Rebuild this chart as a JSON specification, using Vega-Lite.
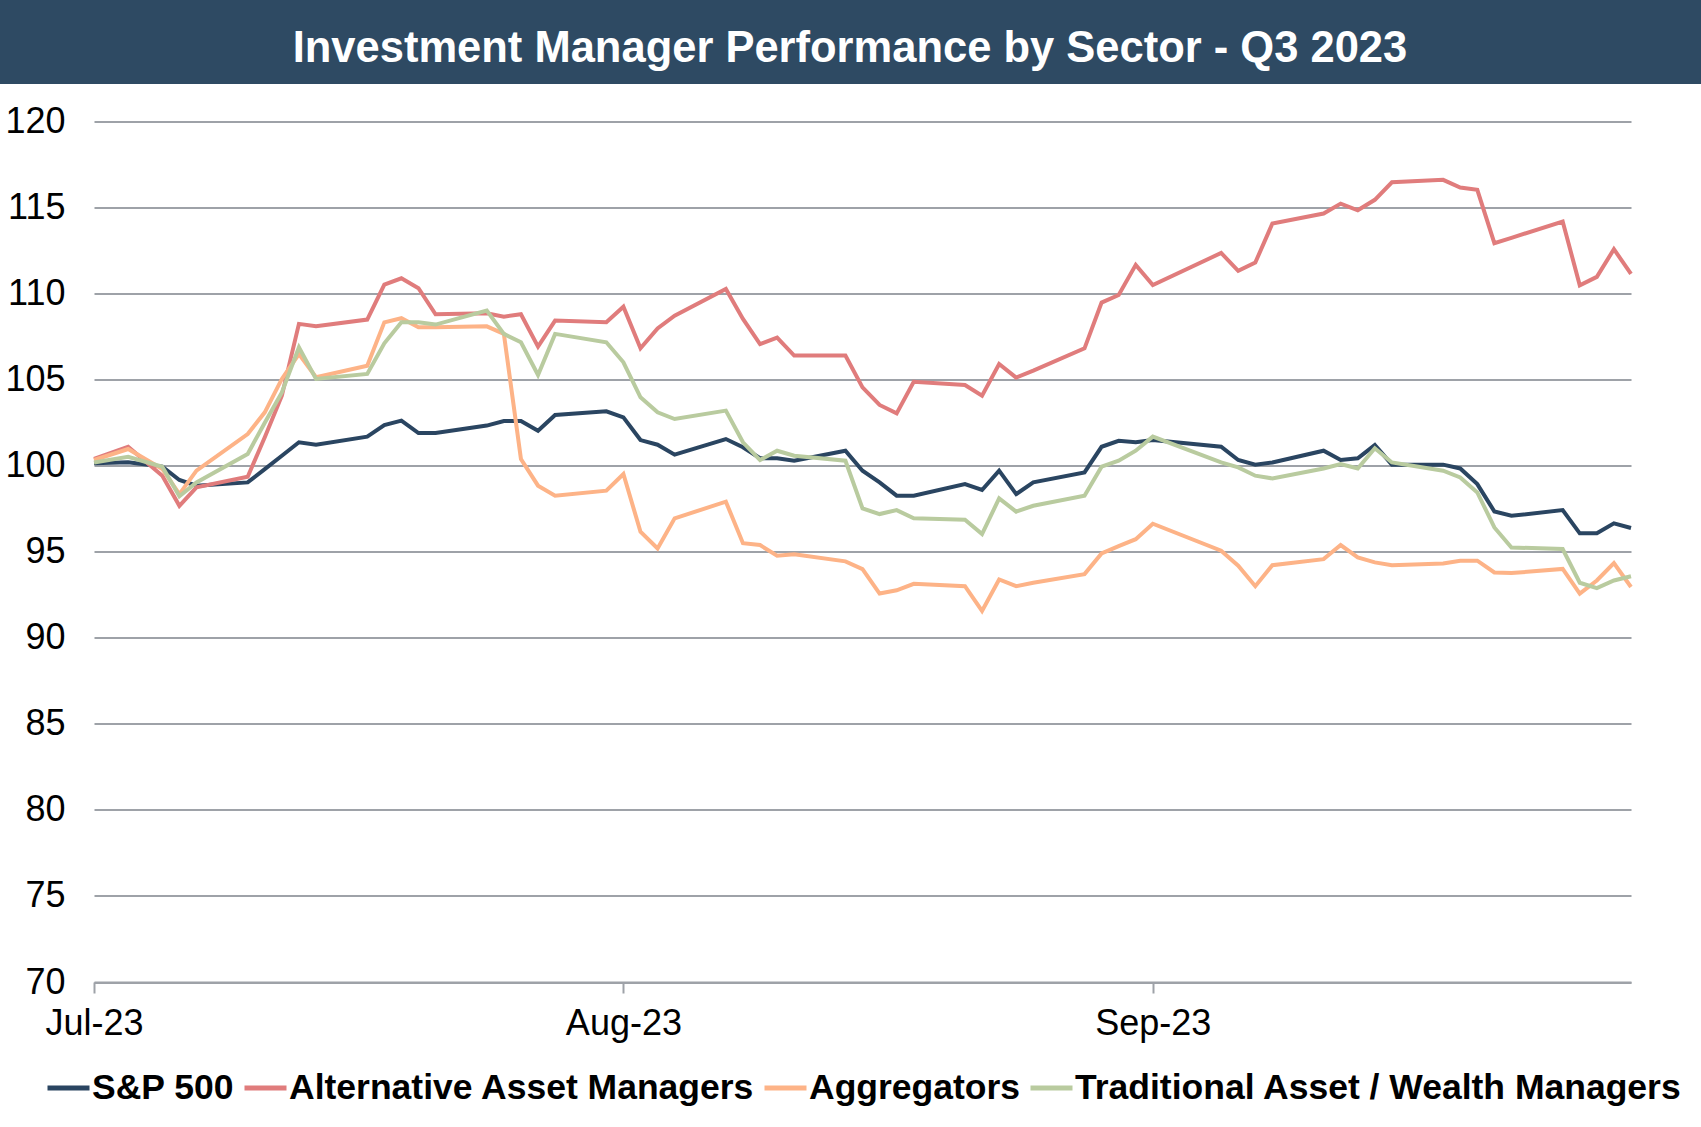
{
"$schema":"https://vega.github.io/schema/vega-lite/v6.json",
"width":1537,"height":860.5,
"autosize":{"type":"none"},
"padding":{"left":94,"top":121.5,"right":70,"bottom":145},
"background":"white",
"config":{"font":"Liberation Sans","view":{"stroke":null}},
"layer":[
{"data":{"values":[{}]},
 "mark":{"type":"rect","color":"#2E4A63"},
 "encoding":{
  "x":{"datum":{"year":2023,"month":6,"date":20,"utc":true},"type":"temporal","scale":{"type":"utc","domain":[{"year":2023,"month":7,"date":1,"utc":true},{"year":2023,"month":9,"date":29,"utc":true}]}},
  "x2":{"datum":{"year":2023,"month":10,"date":10,"utc":true}},
  "y":{"datum":130,"type":"quantitative","scale":{"domain":[70,120],"nice":false,"zero":false}},
  "y2":{"datum":122.18}
 }},
{"data":{"values":[{}]},
 "mark":{"type":"text","text":"Investment Manager Performance by Sector - Q3 2023","font":"Liberation Sans","fontSize":43.5,"fontWeight":"bold","color":"white","align":"center","baseline":"alphabetic"},
 "encoding":{
  "x":{"datum":{"year":2023,"month":8,"date":14,"hours":6,"minutes":24,"utc":true},"type":"temporal"},
  "y":{"datum":123.46,"type":"quantitative"}
 }},
{"data":{"values":[
{"date":"2023-07-01","series":"S&P 500","value":100.14},{"date":"2023-07-01","series":"Alternative Asset Managers","value":100.39},{"date":"2023-07-01","series":"Aggregators","value":100.33},{"date":"2023-07-01","series":"Traditional Asset / Wealth Managers","value":100.19},
{"date":"2023-07-03","series":"S&P 500","value":100.2},{"date":"2023-07-03","series":"Alternative Asset Managers","value":101.1},{"date":"2023-07-03","series":"Aggregators","value":100.97},{"date":"2023-07-03","series":"Traditional Asset / Wealth Managers","value":100.52},
{"date":"2023-07-05","series":"S&P 500","value":99.95},{"date":"2023-07-05","series":"Alternative Asset Managers","value":99.42},{"date":"2023-07-05","series":"Aggregators","value":99.81},{"date":"2023-07-05","series":"Traditional Asset / Wealth Managers","value":99.94},
{"date":"2023-07-06","series":"S&P 500","value":99.17},{"date":"2023-07-06","series":"Alternative Asset Managers","value":97.67},{"date":"2023-07-06","series":"Aggregators","value":98.35},{"date":"2023-07-06","series":"Traditional Asset / Wealth Managers","value":98.22},
{"date":"2023-07-07","series":"S&P 500","value":98.84},{"date":"2023-07-07","series":"Alternative Asset Managers","value":98.74},{"date":"2023-07-07","series":"Aggregators","value":99.71},{"date":"2023-07-07","series":"Traditional Asset / Wealth Managers","value":99.03},
{"date":"2023-07-10","series":"S&P 500","value":99.03},{"date":"2023-07-10","series":"Alternative Asset Managers","value":99.36},{"date":"2023-07-10","series":"Aggregators","value":101.84},{"date":"2023-07-10","series":"Traditional Asset / Wealth Managers","value":100.68},
{"date":"2023-07-11","series":"S&P 500","value":99.8},{"date":"2023-07-11","series":"Alternative Asset Managers","value":101.65},{"date":"2023-07-11","series":"Aggregators","value":103.1},{"date":"2023-07-11","series":"Traditional Asset / Wealth Managers","value":102.5},
{"date":"2023-07-12","series":"S&P 500","value":100.58},{"date":"2023-07-12","series":"Alternative Asset Managers","value":104.07},{"date":"2023-07-12","series":"Aggregators","value":105.04},{"date":"2023-07-12","series":"Traditional Asset / Wealth Managers","value":104.26},
{"date":"2023-07-13","series":"S&P 500","value":101.36},{"date":"2023-07-13","series":"Alternative Asset Managers","value":108.24},{"date":"2023-07-13","series":"Aggregators","value":106.49},{"date":"2023-07-13","series":"Traditional Asset / Wealth Managers","value":106.88},
{"date":"2023-07-14","series":"S&P 500","value":101.22},{"date":"2023-07-14","series":"Alternative Asset Managers","value":108.1},{"date":"2023-07-14","series":"Aggregators","value":105.14},{"date":"2023-07-14","series":"Traditional Asset / Wealth Managers","value":105.04},
{"date":"2023-07-17","series":"S&P 500","value":101.69},{"date":"2023-07-17","series":"Alternative Asset Managers","value":108.49},{"date":"2023-07-17","series":"Aggregators","value":105.81},{"date":"2023-07-17","series":"Traditional Asset / Wealth Managers","value":105.33},
{"date":"2023-07-18","series":"S&P 500","value":102.36},{"date":"2023-07-18","series":"Alternative Asset Managers","value":110.52},{"date":"2023-07-18","series":"Aggregators","value":108.33},{"date":"2023-07-18","series":"Traditional Asset / Wealth Managers","value":107.11},
{"date":"2023-07-19","series":"S&P 500","value":102.62},{"date":"2023-07-19","series":"Alternative Asset Managers","value":110.89},{"date":"2023-07-19","series":"Aggregators","value":108.57},{"date":"2023-07-19","series":"Traditional Asset / Wealth Managers","value":108.33},
{"date":"2023-07-20","series":"S&P 500","value":101.9},{"date":"2023-07-20","series":"Alternative Asset Managers","value":110.31},{"date":"2023-07-20","series":"Aggregators","value":108.04},{"date":"2023-07-20","series":"Traditional Asset / Wealth Managers","value":108.33},
{"date":"2023-07-21","series":"S&P 500","value":101.9},{"date":"2023-07-21","series":"Alternative Asset Managers","value":108.8},{"date":"2023-07-21","series":"Aggregators","value":108.04},{"date":"2023-07-21","series":"Traditional Asset / Wealth Managers","value":108.2},
{"date":"2023-07-24","series":"S&P 500","value":102.33},{"date":"2023-07-24","series":"Alternative Asset Managers","value":108.86},{"date":"2023-07-24","series":"Aggregators","value":108.1},{"date":"2023-07-24","series":"Traditional Asset / Wealth Managers","value":109.01},
{"date":"2023-07-25","series":"S&P 500","value":102.6},{"date":"2023-07-25","series":"Alternative Asset Managers","value":108.66},{"date":"2023-07-25","series":"Aggregators","value":107.66},{"date":"2023-07-25","series":"Traditional Asset / Wealth Managers","value":107.66},
{"date":"2023-07-26","series":"S&P 500","value":102.6},{"date":"2023-07-26","series":"Alternative Asset Managers","value":108.8},{"date":"2023-07-26","series":"Aggregators","value":100.39},{"date":"2023-07-26","series":"Traditional Asset / Wealth Managers","value":107.17},
{"date":"2023-07-27","series":"S&P 500","value":102.03},{"date":"2023-07-27","series":"Alternative Asset Managers","value":106.92},{"date":"2023-07-27","series":"Aggregators","value":98.84},{"date":"2023-07-27","series":"Traditional Asset / Wealth Managers","value":105.27},
{"date":"2023-07-28","series":"S&P 500","value":102.95},{"date":"2023-07-28","series":"Alternative Asset Managers","value":108.43},{"date":"2023-07-28","series":"Aggregators","value":98.26},{"date":"2023-07-28","series":"Traditional Asset / Wealth Managers","value":107.66},
{"date":"2023-07-31","series":"S&P 500","value":103.16},{"date":"2023-07-31","series":"Alternative Asset Managers","value":108.33},{"date":"2023-07-31","series":"Aggregators","value":98.55},{"date":"2023-07-31","series":"Traditional Asset / Wealth Managers","value":107.17},
{"date":"2023-08-01","series":"S&P 500","value":102.81},{"date":"2023-08-01","series":"Alternative Asset Managers","value":109.24},{"date":"2023-08-01","series":"Aggregators","value":99.52},{"date":"2023-08-01","series":"Traditional Asset / Wealth Managers","value":106.01},
{"date":"2023-08-02","series":"S&P 500","value":101.49},{"date":"2023-08-02","series":"Alternative Asset Managers","value":106.82},{"date":"2023-08-02","series":"Aggregators","value":96.16},{"date":"2023-08-02","series":"Traditional Asset / Wealth Managers","value":103.97},
{"date":"2023-08-03","series":"S&P 500","value":101.22},{"date":"2023-08-03","series":"Alternative Asset Managers","value":107.98},{"date":"2023-08-03","series":"Aggregators","value":95.19},{"date":"2023-08-03","series":"Traditional Asset / Wealth Managers","value":103.1},
{"date":"2023-08-04","series":"S&P 500","value":100.64},{"date":"2023-08-04","series":"Alternative Asset Managers","value":108.72},{"date":"2023-08-04","series":"Aggregators","value":96.94},{"date":"2023-08-04","series":"Traditional Asset / Wealth Managers","value":102.71},
{"date":"2023-08-07","series":"S&P 500","value":101.55},{"date":"2023-08-07","series":"Alternative Asset Managers","value":110.27},{"date":"2023-08-07","series":"Aggregators","value":97.91},{"date":"2023-08-07","series":"Traditional Asset / Wealth Managers","value":103.2},
{"date":"2023-08-08","series":"S&P 500","value":101.07},{"date":"2023-08-08","series":"Alternative Asset Managers","value":108.53},{"date":"2023-08-08","series":"Aggregators","value":95.5},{"date":"2023-08-08","series":"Traditional Asset / Wealth Managers","value":101.36},
{"date":"2023-08-09","series":"S&P 500","value":100.43},{"date":"2023-08-09","series":"Alternative Asset Managers","value":107.07},{"date":"2023-08-09","series":"Aggregators","value":95.39},{"date":"2023-08-09","series":"Traditional Asset / Wealth Managers","value":100.33},
{"date":"2023-08-10","series":"S&P 500","value":100.43},{"date":"2023-08-10","series":"Alternative Asset Managers","value":107.44},{"date":"2023-08-10","series":"Aggregators","value":94.77},{"date":"2023-08-10","series":"Traditional Asset / Wealth Managers","value":100.87},
{"date":"2023-08-11","series":"S&P 500","value":100.29},{"date":"2023-08-11","series":"Alternative Asset Managers","value":106.4},{"date":"2023-08-11","series":"Aggregators","value":94.86},{"date":"2023-08-11","series":"Traditional Asset / Wealth Managers","value":100.58},
{"date":"2023-08-14","series":"S&P 500","value":100.87},{"date":"2023-08-14","series":"Alternative Asset Managers","value":106.4},{"date":"2023-08-14","series":"Aggregators","value":94.44},{"date":"2023-08-14","series":"Traditional Asset / Wealth Managers","value":100.29},
{"date":"2023-08-15","series":"S&P 500","value":99.71},{"date":"2023-08-15","series":"Alternative Asset Managers","value":104.55},{"date":"2023-08-15","series":"Aggregators","value":93.99},{"date":"2023-08-15","series":"Traditional Asset / Wealth Managers","value":97.52},
{"date":"2023-08-16","series":"S&P 500","value":99.03},{"date":"2023-08-16","series":"Alternative Asset Managers","value":103.53},{"date":"2023-08-16","series":"Aggregators","value":92.57},{"date":"2023-08-16","series":"Traditional Asset / Wealth Managers","value":97.19},
{"date":"2023-08-17","series":"S&P 500","value":98.26},{"date":"2023-08-17","series":"Alternative Asset Managers","value":103.04},{"date":"2023-08-17","series":"Aggregators","value":92.76},{"date":"2023-08-17","series":"Traditional Asset / Wealth Managers","value":97.42},
{"date":"2023-08-18","series":"S&P 500","value":98.26},{"date":"2023-08-18","series":"Alternative Asset Managers","value":104.88},{"date":"2023-08-18","series":"Aggregators","value":93.14},{"date":"2023-08-18","series":"Traditional Asset / Wealth Managers","value":96.94},
{"date":"2023-08-21","series":"S&P 500","value":98.93},{"date":"2023-08-21","series":"Alternative Asset Managers","value":104.69},{"date":"2023-08-21","series":"Aggregators","value":93.0},{"date":"2023-08-21","series":"Traditional Asset / Wealth Managers","value":96.86},
{"date":"2023-08-22","series":"S&P 500","value":98.59},{"date":"2023-08-22","series":"Alternative Asset Managers","value":104.07},{"date":"2023-08-22","series":"Aggregators","value":91.56},{"date":"2023-08-22","series":"Traditional Asset / Wealth Managers","value":96.03},
{"date":"2023-08-23","series":"S&P 500","value":99.71},{"date":"2023-08-23","series":"Alternative Asset Managers","value":105.91},{"date":"2023-08-23","series":"Aggregators","value":93.39},{"date":"2023-08-23","series":"Traditional Asset / Wealth Managers","value":98.1},
{"date":"2023-08-24","series":"S&P 500","value":98.35},{"date":"2023-08-24","series":"Alternative Asset Managers","value":105.12},{"date":"2023-08-24","series":"Aggregators","value":93.0},{"date":"2023-08-24","series":"Traditional Asset / Wealth Managers","value":97.33},
{"date":"2023-08-25","series":"S&P 500","value":99.03},{"date":"2023-08-25","series":"Alternative Asset Managers","value":105.52},{"date":"2023-08-25","series":"Aggregators","value":93.2},{"date":"2023-08-25","series":"Traditional Asset / Wealth Managers","value":97.67},
{"date":"2023-08-28","series":"S&P 500","value":99.61},{"date":"2023-08-28","series":"Alternative Asset Managers","value":106.82},{"date":"2023-08-28","series":"Aggregators","value":93.7},{"date":"2023-08-28","series":"Traditional Asset / Wealth Managers","value":98.26},
{"date":"2023-08-29","series":"S&P 500","value":101.1},{"date":"2023-08-29","series":"Alternative Asset Managers","value":109.48},{"date":"2023-08-29","series":"Aggregators","value":94.9},{"date":"2023-08-29","series":"Traditional Asset / Wealth Managers","value":99.94},
{"date":"2023-08-30","series":"S&P 500","value":101.45},{"date":"2023-08-30","series":"Alternative Asset Managers","value":109.92},{"date":"2023-08-30","series":"Aggregators","value":95.33},{"date":"2023-08-30","series":"Traditional Asset / Wealth Managers","value":100.29},
{"date":"2023-08-31","series":"S&P 500","value":101.36},{"date":"2023-08-31","series":"Alternative Asset Managers","value":111.67},{"date":"2023-08-31","series":"Aggregators","value":95.73},{"date":"2023-08-31","series":"Traditional Asset / Wealth Managers","value":100.87},
{"date":"2023-09-01","series":"S&P 500","value":101.49},{"date":"2023-09-01","series":"Alternative Asset Managers","value":110.5},{"date":"2023-09-01","series":"Aggregators","value":96.63},{"date":"2023-09-01","series":"Traditional Asset / Wealth Managers","value":101.69},
{"date":"2023-09-05","series":"S&P 500","value":101.1},{"date":"2023-09-05","series":"Alternative Asset Managers","value":112.36},{"date":"2023-09-05","series":"Aggregators","value":95.06},{"date":"2023-09-05","series":"Traditional Asset / Wealth Managers","value":100.19},
{"date":"2023-09-06","series":"S&P 500","value":100.33},{"date":"2023-09-06","series":"Alternative Asset Managers","value":111.32},{"date":"2023-09-06","series":"Aggregators","value":94.19},{"date":"2023-09-06","series":"Traditional Asset / Wealth Managers","value":99.9},
{"date":"2023-09-07","series":"S&P 500","value":100.06},{"date":"2023-09-07","series":"Alternative Asset Managers","value":111.8},{"date":"2023-09-07","series":"Aggregators","value":93.0},{"date":"2023-09-07","series":"Traditional Asset / Wealth Managers","value":99.42},
{"date":"2023-09-08","series":"S&P 500","value":100.19},{"date":"2023-09-08","series":"Alternative Asset Managers","value":114.07},{"date":"2023-09-08","series":"Aggregators","value":94.22},{"date":"2023-09-08","series":"Traditional Asset / Wealth Managers","value":99.26},
{"date":"2023-09-11","series":"S&P 500","value":100.87},{"date":"2023-09-11","series":"Alternative Asset Managers","value":114.65},{"date":"2023-09-11","series":"Aggregators","value":94.57},{"date":"2023-09-11","series":"Traditional Asset / Wealth Managers","value":99.84},
{"date":"2023-09-12","series":"S&P 500","value":100.33},{"date":"2023-09-12","series":"Alternative Asset Managers","value":115.23},{"date":"2023-09-12","series":"Aggregators","value":95.39},{"date":"2023-09-12","series":"Traditional Asset / Wealth Managers","value":100.1},
{"date":"2023-09-13","series":"S&P 500","value":100.43},{"date":"2023-09-13","series":"Alternative Asset Managers","value":114.84},{"date":"2023-09-13","series":"Aggregators","value":94.67},{"date":"2023-09-13","series":"Traditional Asset / Wealth Managers","value":99.84},
{"date":"2023-09-14","series":"S&P 500","value":101.2},{"date":"2023-09-14","series":"Alternative Asset Managers","value":115.45},{"date":"2023-09-14","series":"Aggregators","value":94.38},{"date":"2023-09-14","series":"Traditional Asset / Wealth Managers","value":101.01},
{"date":"2023-09-15","series":"S&P 500","value":100.06},{"date":"2023-09-15","series":"Alternative Asset Managers","value":116.47},{"date":"2023-09-15","series":"Aggregators","value":94.22},{"date":"2023-09-15","series":"Traditional Asset / Wealth Managers","value":100.19},
{"date":"2023-09-18","series":"S&P 500","value":100.06},{"date":"2023-09-18","series":"Alternative Asset Managers","value":116.61},{"date":"2023-09-18","series":"Aggregators","value":94.32},{"date":"2023-09-18","series":"Traditional Asset / Wealth Managers","value":99.71},
{"date":"2023-09-19","series":"S&P 500","value":99.84},{"date":"2023-09-19","series":"Alternative Asset Managers","value":116.16},{"date":"2023-09-19","series":"Aggregators","value":94.48},{"date":"2023-09-19","series":"Traditional Asset / Wealth Managers","value":99.32},
{"date":"2023-09-20","series":"S&P 500","value":98.93},{"date":"2023-09-20","series":"Alternative Asset Managers","value":116.03},{"date":"2023-09-20","series":"Aggregators","value":94.48},{"date":"2023-09-20","series":"Traditional Asset / Wealth Managers","value":98.45},
{"date":"2023-09-21","series":"S&P 500","value":97.34},{"date":"2023-09-21","series":"Alternative Asset Managers","value":112.93},{"date":"2023-09-21","series":"Aggregators","value":93.8},{"date":"2023-09-21","series":"Traditional Asset / Wealth Managers","value":96.41},
{"date":"2023-09-22","series":"S&P 500","value":97.09},{"date":"2023-09-22","series":"Alternative Asset Managers","value":113.24},{"date":"2023-09-22","series":"Aggregators","value":93.76},{"date":"2023-09-22","series":"Traditional Asset / Wealth Managers","value":95.25},
{"date":"2023-09-25","series":"S&P 500","value":97.42},{"date":"2023-09-25","series":"Alternative Asset Managers","value":114.19},{"date":"2023-09-25","series":"Aggregators","value":94.0},{"date":"2023-09-25","series":"Traditional Asset / Wealth Managers","value":95.16},
{"date":"2023-09-26","series":"S&P 500","value":96.07},{"date":"2023-09-26","series":"Alternative Asset Managers","value":110.48},{"date":"2023-09-26","series":"Aggregators","value":92.57},{"date":"2023-09-26","series":"Traditional Asset / Wealth Managers","value":93.2},
{"date":"2023-09-27","series":"S&P 500","value":96.07},{"date":"2023-09-27","series":"Alternative Asset Managers","value":110.97},{"date":"2023-09-27","series":"Aggregators","value":93.33},{"date":"2023-09-27","series":"Traditional Asset / Wealth Managers","value":92.89},
{"date":"2023-09-28","series":"S&P 500","value":96.65},{"date":"2023-09-28","series":"Alternative Asset Managers","value":112.58},{"date":"2023-09-28","series":"Aggregators","value":94.34},{"date":"2023-09-28","series":"Traditional Asset / Wealth Managers","value":93.33},
{"date":"2023-09-29","series":"S&P 500","value":96.38},{"date":"2023-09-29","series":"Alternative Asset Managers","value":111.14},{"date":"2023-09-29","series":"Aggregators","value":92.95},{"date":"2023-09-29","series":"Traditional Asset / Wealth Managers","value":93.58}
]},
 "mark":{"type":"line","strokeWidth":4},
 "encoding":{
  "x":{"field":"date","type":"temporal","title":null,
   "scale":{"type":"utc","domain":[{"year":2023,"month":7,"date":1,"utc":true},{"year":2023,"month":9,"date":29,"utc":true}]},
   "axis":{"values":[{"year":2023,"month":7,"date":1,"utc":true},{"year":2023,"month":8,"date":1,"utc":true},{"year":2023,"month":9,"date":1,"utc":true}],
    "format":"%b-%y","grid":false,"domain":true,"domainColor":"#9EA2A8","domainWidth":2,"ticks":true,"tickSize":11,"tickColor":"#9EA2A8","tickWidth":2,
    "labelFontSize":36,"labelFont":"Liberation Sans","labelColor":"black","labelPadding":13,"labelAngle":0,"labelAlign":"center","labelOverlap":false}},
  "y":{"field":"value","type":"quantitative","title":null,
   "scale":{"domain":[70,120],"nice":false,"zero":false},
   "axis":{"values":[70,75,80,85,90,95,100,105,110,115,120],"grid":true,"gridColor":"#9EA2A8","gridWidth":2,"domain":false,"ticks":false,
    "labelFontSize":36,"labelFont":"Liberation Sans","labelColor":"black","labelPadding":29}},
  "color":{"field":"series","type":"nominal","title":null,
   "scale":{"domain":["S&P 500","Alternative Asset Managers","Aggregators","Traditional Asset / Wealth Managers"],"range":["#2A4561","#E07C7C","#FDB387","#B9CB9F"]},
   "legend":{"orient":"none","legendX":-49,"legendY":943,"direction":"horizontal","padding":0,"symbolType":"stroke","symbolSize":1764,"symbolStrokeWidth":5,
    "labelFontSize":35.5,"labelFontWeight":"bold","labelFont":"Liberation Sans","labelColor":"black","labelOffset":0,"columnPadding":-1,"labelLimit":0}}
 }}
]
}
